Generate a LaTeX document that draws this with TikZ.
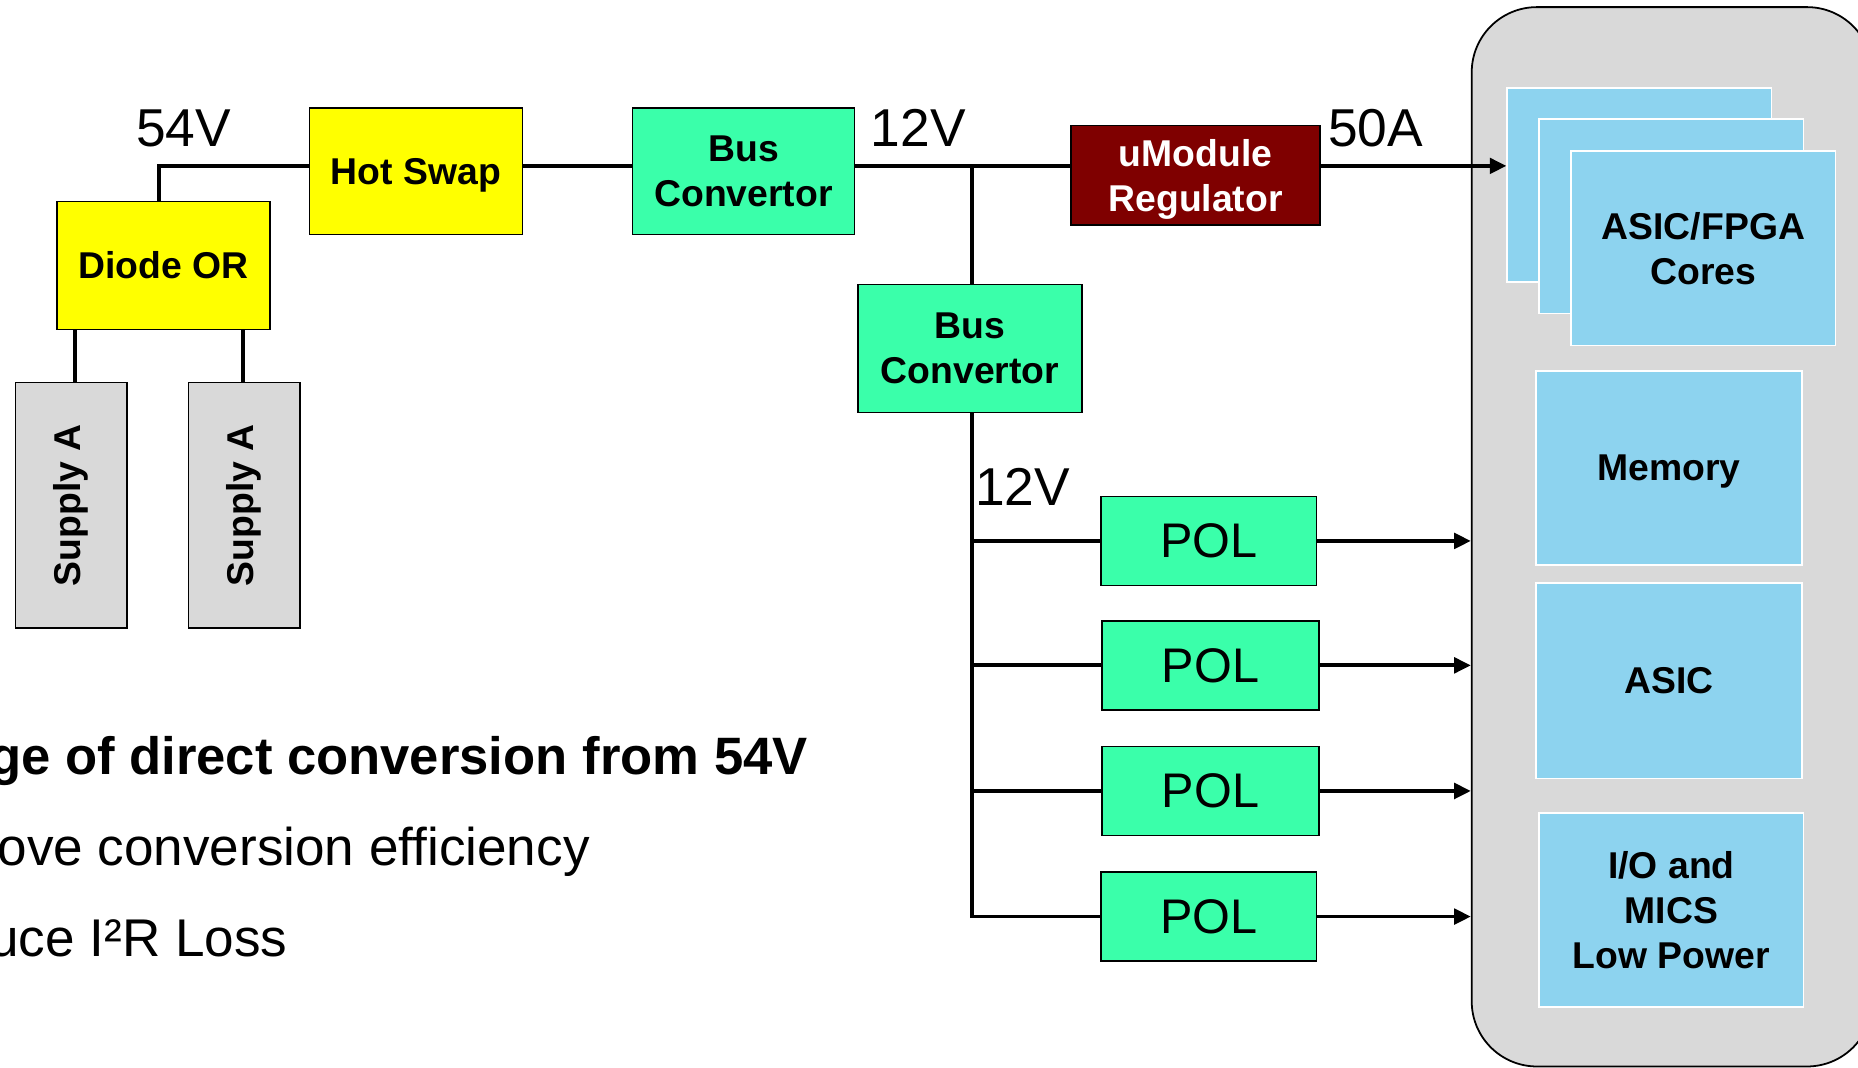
\documentclass[tikz,border=0pt]{standalone}
\usepackage{fontspec}
\setmainfont{Liberation Sans}
\usetikzlibrary{arrows.meta}
\definecolor{hotyellow}{HTML}{FFFF00}
\definecolor{mint}{HTML}{3AFFAA}
\definecolor{darkmaroon}{HTML}{7F0000}
\definecolor{sky}{HTML}{8DD3EF}
\definecolor{lgray}{HTML}{D9D9D9}
\begin{document}
\begin{tikzpicture}[x=0.5pt,y=-0.5pt,
  box/.style={draw=black, line width=0.6pt, inner sep=0pt, align=center,
    text depth=0pt,
    font=\fontsize{15.75}{19}\selectfont\bfseries},
  polbox/.style={draw=black, line width=0.6pt, inner sep=0pt, fill=mint,
    minimum height=37.5pt, font=\fontsize{20.5}{24}\selectfont},
  card/.style={draw=white, line width=0.75pt, fill=sky, inner sep=0pt, align=center,
    text depth=0pt,
    minimum width=111.5pt, minimum height=82pt, font=\fontsize{15.75}{19}\selectfont\bfseries},
  lab/.style={font=\fontsize{22.5}{27}\selectfont, inner sep=0pt, anchor=base},
  txt/.style={font=\fontsize{22.4}{26}\selectfont, inner sep=0pt, anchor=base east},
  wire/.style={draw=black, line width=1.6pt},
  arr/.style={wire, -{Triangle[length=7pt,width=6.5pt]}}
]
\useasboundingbox (0,0) rectangle (1568,901);
\clip (0,0) rectangle (1568,901);

% container
\node[draw=black, line width=0.75pt, fill=lgray, rounded corners=27.5pt,
  minimum width=169pt, minimum height=447pt, inner sep=0pt] (chip) at (1411,453) {};

% cards inside container
\node[card] (card1) at (1383.5,156) {ASIC/FPGA\\Cores};
\node[card] (card2) at (1410.5,182.5) {ASIC/FPGA\\Cores};
\node[card] (card3) at (1437.5,209.5) {ASIC/FPGA\\Cores};
\node[card, minimum width=112pt] (mem) at (1408.5,395) {Memory};
\node[card, minimum width=112pt, minimum height=82.5pt] (asic) at (1408.5,574.5) {ASIC};
\node[card] (io) at (1410.5,768) {I/O and\\MICS\\Low Power};

% boxes
\node[box, fill=hotyellow, minimum width=90pt, minimum height=54pt] (diode) at (138,224) {Diode OR};
\node[box, fill=hotyellow, minimum width=90pt, minimum height=53.5pt] (hot) at (351,144.5) {Hot Swap};
\node[box, fill=mint, minimum width=93.5pt, minimum height=53.5pt] (bus1) at (627.5,144.5) {Bus\\Convertor};
\node[box, fill=darkmaroon, text=white, minimum width=105pt, minimum height=42pt] (umod) at (1009,148) {uModule\\Regulator};
\node[box, fill=mint, minimum width=94.5pt, minimum height=54pt] (bus2) at (818.5,294) {Bus\\Convertor};
\node[box, fill=lgray, minimum width=47pt, minimum height=103.5pt] (supA) at (60,426.5) {\rotatebox{90}{Supply A}};
\node[box, fill=lgray, minimum width=47pt, minimum height=103.5pt] (supB) at (206,426.5) {\rotatebox{90}{Supply A}};

\node[polbox, minimum width=91pt] (pol1) at (1020,456.5) {POL};
\node[polbox, minimum width=91.5pt] (pol2) at (1021.5,561.5) {POL};
\node[polbox, minimum width=91.5pt] (pol3) at (1021.5,667.5) {POL};
\node[polbox, minimum width=91pt] (pol4) at (1020,773.5) {POL};

% labels
\node[lab] (v54) at (155,124) {54V};
\node[lab] (v12a) at (775,124) {12V};
\node[lab] (a50) at (1161,124) {50A};
\node[lab] (v12b) at (863,427) {12V};

% wires
\coordinate (main) at (0,140);
\coordinate (tap) at (820,140);
\draw[wire] ([xshift=-2pt]diode.north) |- (hot.west |- main);
\draw[wire] (hot.east |- main) -- (bus1.west |- main);
\draw[wire] (bus1.east |- main) -- (umod.west |- main);
\draw[arr] (umod.east |- main) -- (card1.west |- main);
\draw[wire] (tap) -- (tap |- bus2.north);
\draw[wire] (tap |- bus2.south) -- (tap |- pol4.west) -- (pol4.west);
\draw[wire] (tap |- pol1.west) -- (pol1.west);
\draw[wire] (tap |- pol2.west) -- (pol2.west);
\draw[wire] (tap |- pol3.west) -- (pol3.west);
\draw[arr] (pol1.east) -- (chip.west |- pol1.east);
\draw[arr] (pol2.east) -- (chip.west |- pol2.east);
\draw[arr] (pol3.east) -- (chip.west |- pol3.east);
\draw[arr] (pol4.east) -- (chip.west |- pol4.east);
\draw[wire] ([xshift=1.5pt]supA.north) -- ([xshift=1.5pt]supA.north |- diode.south);
\draw[wire] ([xshift=-0.5pt]supB.north) -- ([xshift=-0.5pt]supB.north |- diode.south);

% bottom text
\node[txt, font=\fontsize{22.2}{26}\selectfont\bfseries] (t1) at (682,654) {ge of direct conversion from 54V};
\node[txt] (t2) at (498,730) {ove conversion efficiency};
\node[txt] (t3) at (243,807) {uce I²R Loss};
\end{tikzpicture}
\end{document}
